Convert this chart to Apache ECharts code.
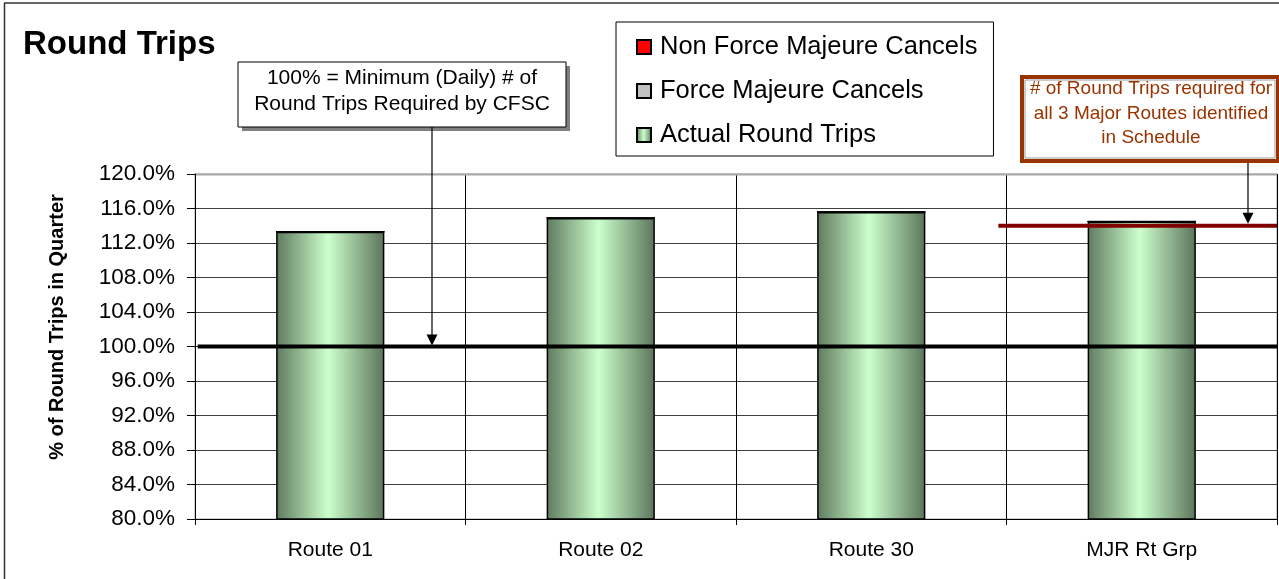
<!DOCTYPE html>
<html>
<head>
<meta charset="utf-8">
<script src="https://cdn.jsdelivr.net/npm/echarts@6/dist/echarts.min.js"></script>
<style>
html,body{margin:0;padding:0;background:#fff;}
#main{width:1279px;height:579px;}
</style>
</head>
<body>
<div id="main"></div>
<script>
// ---- data ----
const categories = ['Route 01', 'Route 02', 'Route 30', 'MJR Rt Grp'];
const actualRoundTrips = [113.3, 114.9, 115.6, 114.5];
const forceMajeure = [0, 0, 0, 0];
const nonForceMajeure = [0, 0, 0, 0];
const minimumLevel = 100;          // 100% = minimum daily round trips
const majorRoutesRequired = 114.0; // required for all 3 major routes
const yTicks = { min: 80, max: 120, step: 4 };

const FONT = '"Liberation Sans", Arial, sans-serif';
const chart = echarts.init(document.getElementById('main'));

const greenGrad = new echarts.graphic.LinearGradient(0, 0, 1, 0, [
  { offset: 0, color: '#5f7a5f' },
  { offset: 0.48, color: '#ccffcc' },
  { offset: 1, color: '#5c745c' }
]);

const option = {
  animation: false,
  backgroundColor: '#fff',
  textStyle: { fontFamily: FONT },
  title: {
    text: 'Round Trips',
    left: 18, top: 23,
    textStyle: { fontFamily: FONT, fontSize: 33, fontWeight: 'bold', color: '#000' }
  },
  legend: {
    data: ['Non Force Majeure Cancels', 'Force Majeure Cancels', 'Actual Round Trips'],
    orient: 'vertical',
    left: 616, top: 22,
    padding: [11, 16, 7, 20],
    itemGap: 16,
    itemWidth: 14, itemHeight: 14,
    borderColor: '#000', borderWidth: 1,
    backgroundColor: '#fff',
    icon: 'rect',
    textStyle: { fontFamily: FONT, fontSize: 25.5, color: '#000', lineHeight: 28, padding: [0,0,0,4] }
  },
  grid: { left: 195, right: 2, top: 174, bottom: 60, show: true, borderColor: '#a0a0a0', borderWidth: 1 },
  xAxis: [{
    type: 'category',
    data: categories,
    axisLine: { lineStyle: { color: '#000', width: 1 } },
    axisTick: { show: true, length: 6, lineStyle: { color: '#000' } },
    axisLabel: { fontFamily: FONT, fontSize: 21, color: '#000', margin: 21 },
    splitLine: { show: true, lineStyle: { color: '#000', width: 1 } }
  }, {
    type: 'value', min: 0, max: 4, show: false
  }],
  yAxis: {
    type: 'value',
    min: yTicks.min, max: yTicks.max, interval: yTicks.step,
    axisLine: { show: true, lineStyle: { color: '#000' } },
    axisTick: { show: true, length: 8, lineStyle: { color: '#000' } },
    axisLabel: {
      fontFamily: FONT, fontSize: 22.5, color: '#000', margin: 20,
      formatter: v => v.toFixed(1) + '%'
    },
    splitLine: { show: true, lineStyle: { color: '#404040', width: 1 } }
  },
  series: [
    {
      name: 'Actual Round Trips', type: 'bar', stack: 'trips',
      data: actualRoundTrips, barWidth: '40%',
      itemStyle: { color: greenGrad, borderColor: '#000', borderWidth: 1.5 },
      z: 3
    },
    {
      name: 'Force Majeure Cancels', type: 'bar', stack: 'trips',
      data: forceMajeure,
      itemStyle: { color: '#c0c0c0', borderColor: '#000', borderWidth: 1 }
    },
    {
      name: 'Non Force Majeure Cancels', type: 'bar', stack: 'trips',
      data: nonForceMajeure,
      itemStyle: { color: '#ff0000', borderColor: '#000', borderWidth: 1 }
    },
    {
      name: 'min', type: 'line', xAxisIndex: 1, symbol: 'none',
      data: [[0.01, minimumLevel], [4, minimumLevel]],
      lineStyle: { color: '#000', width: 4 }, z: 5, silent: true
    },
    {
      name: 'req', type: 'line', xAxisIndex: 1, symbol: 'none',
      data: [[2.97, majorRoutesRequired], [4, majorRoutesRequired]],
      lineStyle: { color: '#800000', width: 4 }, z: 5, silent: true
    }
  ]
};
chart.setOption(option);

// annotations
const yMin = chart.convertToPixel({ yAxisIndex: 0 }, minimumLevel);
const yReq = chart.convertToPixel({ yAxisIndex: 0 }, majorRoutesRequired);
const yTop = chart.convertToPixel({ yAxisIndex: 0 }, yTicks.max);
function arrow(x, y0, y1) {
  return [
    { type: 'line', shape: { x1: x, y1: y0, x2: x, y2: y1 - 10 }, style: { stroke: '#000', lineWidth: 1.2 }, z: 20 },
    { type: 'polygon', shape: { points: [[x - 5.5, y1 - 12], [x + 5.5, y1 - 12], [x, y1 - 1]] }, style: { fill: '#000' }, z: 20 }
  ];
}
const txt = (x, y, t, size, color, bold) => ({
  type: 'text', x, y, z: 21,
  style: { text: t, font: (bold ? 'bold ' : '') + size + 'px ' + FONT, fill: color, textAlign: 'center', textVerticalAlign: 'middle' }
});
chart.setOption({
  graphic: [
    // outer frame
    { type: 'line', shape: { x1: 4, y1: 3, x2: 1279, y2: 3 }, style: { stroke: '#333', lineWidth: 1.5 }, z: 1 },
    { type: 'line', shape: { x1: 4.5, y1: 3, x2: 4.5, y2: 579 }, style: { stroke: '#333', lineWidth: 1.5 }, z: 1 },
    // lighter top border of plot area
    { type: 'line', shape: { x1: 196, y1: Math.round(yTop) + 0.5, x2: 1277, y2: Math.round(yTop) + 0.5 }, style: { stroke: '#a8a8a8', lineWidth: 2 }, z: 2 },
    // y axis title
    { type: 'text', x: 57, y: 327, rotation: Math.PI / 2, z: 21,
      style: { text: '% of Round Trips in Quarter', font: 'bold 20px ' + FONT, fill: '#000', textAlign: 'center', textVerticalAlign: 'middle' } },
    // box 1 shadow + box
    { type: 'rect', shape: { x: 242, y: 66, width: 328, height: 65 }, style: { fill: '#808080' }, z: 18 },
    { type: 'rect', shape: { x: 238, y: 62, width: 328, height: 65 }, style: { fill: '#fff', stroke: '#000', lineWidth: 1 }, z: 19 },
    txt(402, 78, '100% = Minimum (Daily) # of', 21, '#000'),
    txt(402, 104, 'Round Trips Required by CFSC', 21, '#000'),
    ...arrow(432, 127, yMin),
    // box 2
    { type: 'rect', shape: { x: 1022, y: 77, width: 256, height: 84 }, style: { fill: '#fff', stroke: '#993300', lineWidth: 4 }, z: 19 },
    { type: 'rect', shape: { x: 1025, y: 80, width: 250, height: 78 }, style: { fill: 'none', stroke: '#999', lineWidth: 1 }, z: 19 },
    txt(1151, 89, '# of Round Trips required for', 19, '#993300'),
    txt(1151, 114, 'all 3 Major Routes identified', 19, '#993300'),
    txt(1151, 138, 'in Schedule', 19, '#993300'),
    ...arrow(1248, 163, yReq - 1)
  ]
});
</script>
</body>
</html>
